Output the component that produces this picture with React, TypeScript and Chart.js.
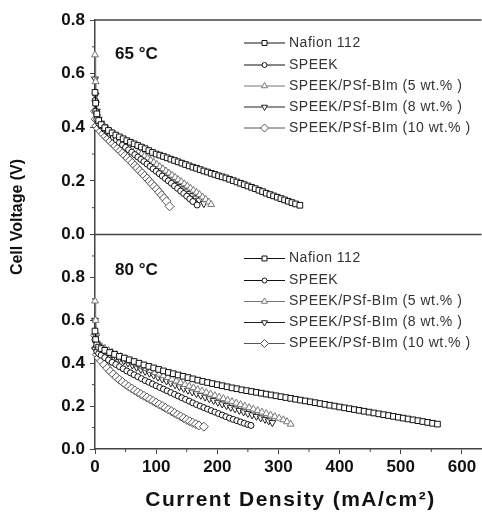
import React, { useEffect, useRef } from 'react';
import { Chart, registerables } from 'chart.js';
import { drawPoint } from 'chart.js/helpers';
Chart.register(...registerables);

const seriesNames = [
  'Nafion 112',
  'SPEEK',
  'SPEEK/PSf-BIm (5 wt.% )',
  'SPEEK/PSf-BIm (8 wt.% )',
  'SPEEK/PSf-BIm (10 wt.% )',
];
const panelLabels = ['65 °C', '80 °C'];
const xTitle = 'Current Density (mA/cm²)';
const yTitle = 'Cell Voltage (V)';
const xTicks = [0, 100, 200, 300, 400, 500, 600];
const xMinorTicks = [50, 150, 250, 350, 450, 550];
const yTicks = [0, 0.2, 0.4, 0.6, 0.8];
const yMinorTop = [0.1, 0.3, 0.5, 0.7];
const yMinorBottom = [0.1, 0.3, 0.5, 0.7, 0.9];

// ---- 65 °C ----
const nafion65X = [0,1,3,6,10,16,22,28,34,40,46,52,58,64,70,76,82,88,94,100,106,112,118,124,130,136,142,148,154,160,166,172,178,184,190,196,202,208,214,220,226,232,238,244,250,256,262,268,274,280,286,292,298,304,310,316,322,328,335];
const nafion65Y = [0.53,0.49,0.45,0.425,0.41,0.398,0.388,0.379,0.371,0.364,0.357,0.350,0.344,0.338,0.332,0.326,0.320,0.313,0.306,0.300,0.296,0.291,0.286,0.281,0.276,0.271,0.266,0.261,0.256,0.251,0.247,0.242,0.237,0.233,0.228,0.224,0.219,0.215,0.211,0.206,0.201,0.196,0.191,0.186,0.181,0.176,0.171,0.165,0.160,0.154,0.149,0.144,0.139,0.134,0.129,0.124,0.119,0.114,0.109];
const speek65X = [0,1,3,6,10,15,20,25,30,35,40,45,50,55,60,65,70,75,80,85,90,95,100,105,110,115,120,125,130,135,140,145,150,155,160,167];
const speek65Y = [0.50,0.46,0.43,0.415,0.405,0.393,0.383,0.373,0.363,0.353,0.343,0.334,0.325,0.316,0.307,0.298,0.289,0.280,0.272,0.263,0.254,0.245,0.236,0.227,0.218,0.209,0.200,0.191,0.181,0.172,0.162,0.153,0.143,0.133,0.123,0.110];
const wt5_65X = [0,1,2,4,7,11,16,21,26,31,36,41,46,51,56,61,66,71,76,81,86,91,96,101,106,111,116,121,126,131,136,141,146,151,156,161,166,171,176,181,186,190];
const wt5_65Y = [0.67,0.57,0.50,0.45,0.425,0.413,0.402,0.393,0.384,0.375,0.366,0.357,0.349,0.341,0.333,0.325,0.317,0.309,0.301,0.293,0.285,0.277,0.269,0.261,0.253,0.245,0.237,0.229,0.221,0.213,0.205,0.197,0.189,0.181,0.173,0.165,0.157,0.149,0.140,0.131,0.121,0.112];
const wt8_65X = [0,1,3,6,10,15,20,25,30,35,40,45,50,55,60,65,70,75,80,85,90,95,100,105,110,115,120,125,130,135,140,145,150,155,160,165,170,178];
const wt8_65Y = [0.58,0.52,0.46,0.43,0.415,0.402,0.391,0.381,0.371,0.361,0.352,0.343,0.334,0.325,0.316,0.307,0.298,0.289,0.281,0.272,0.264,0.255,0.247,0.238,0.230,0.221,0.213,0.204,0.196,0.187,0.179,0.170,0.162,0.153,0.145,0.136,0.128,0.115];
const wt10_65X = [0,1,2,5,9,13,17,21,25,29,33,37,41,45,49,53,57,61,65,69,73,77,81,85,89,93,97,101,105,109,113,117,122];
const wt10_65Y = [0.46,0.43,0.405,0.395,0.385,0.375,0.366,0.357,0.348,0.339,0.330,0.321,0.312,0.303,0.294,0.285,0.276,0.267,0.257,0.248,0.238,0.229,0.219,0.209,0.199,0.189,0.179,0.169,0.158,0.147,0.136,0.124,0.105];

// ---- 80 °C ----
const nafion80X = [0,1,3,6,10,16,24,32,40,48,56,64,72,80,88,96,104,112,120,128,136,144,152,160,168,176,184,192,200,208,216,224,232,240,248,256,264,272,280,288,296,304,312,320,328,336,344,352,360,368,376,384,392,400,408,416,424,432,440,448,456,464,472,480,488,496,504,512,520,528,536,544,552,560];
const nafion80Y = [0.55,0.51,0.485,0.475,0.468,0.46,0.45,0.441,0.432,0.424,0.416,0.408,0.400,0.392,0.385,0.378,0.371,0.364,0.357,0.351,0.345,0.339,0.333,0.327,0.321,0.315,0.310,0.305,0.300,0.295,0.290,0.285,0.281,0.276,0.272,0.268,0.264,0.260,0.256,0.252,0.248,0.244,0.240,0.236,0.232,0.228,0.224,0.220,0.216,0.212,0.208,0.204,0.200,0.196,0.192,0.188,0.184,0.180,0.176,0.172,0.168,0.164,0.160,0.156,0.152,0.148,0.144,0.140,0.136,0.132,0.128,0.124,0.120,0.116];
const speek80X = [0,1,3,6,10,16,22,28,34,40,46,52,58,64,70,76,82,88,94,100,106,112,118,124,130,136,142,148,154,160,166,172,178,184,190,196,202,208,214,220,226,232,238,244,250,255];
const speek80Y = [0.51,0.47,0.455,0.445,0.437,0.426,0.415,0.404,0.394,0.384,0.374,0.364,0.355,0.346,0.337,0.328,0.319,0.311,0.303,0.295,0.287,0.279,0.271,0.263,0.255,0.247,0.239,0.231,0.223,0.215,0.207,0.200,0.193,0.186,0.179,0.172,0.165,0.158,0.151,0.144,0.138,0.132,0.126,0.120,0.114,0.110];
const wt5_80X = [0,1,2,4,7,11,16,22,28,35,42,49,56,63,70,77,84,91,98,105,112,119,126,133,140,147,154,161,168,175,182,189,196,203,210,217,224,231,238,245,252,259,266,273,280,287,294,301,308,314,320];
const wt5_80Y = [0.69,0.60,0.54,0.50,0.485,0.477,0.469,0.460,0.451,0.441,0.431,0.421,0.411,0.402,0.393,0.384,0.375,0.366,0.357,0.349,0.341,0.333,0.325,0.317,0.309,0.301,0.293,0.285,0.277,0.270,0.263,0.256,0.249,0.242,0.235,0.228,0.221,0.214,0.207,0.200,0.193,0.186,0.179,0.172,0.165,0.158,0.151,0.144,0.136,0.127,0.116];
const wt8_80X = [0,1,3,6,10,16,22,28,34,40,47,54,61,68,75,82,89,96,103,110,117,124,131,138,145,152,159,166,173,180,187,194,201,208,215,222,229,236,243,250,257,264,271,278,284,290];
const wt8_80Y = [0.60,0.53,0.49,0.478,0.47,0.46,0.45,0.44,0.43,0.421,0.411,0.401,0.391,0.381,0.371,0.362,0.353,0.344,0.335,0.326,0.317,0.308,0.299,0.290,0.282,0.274,0.266,0.258,0.250,0.242,0.234,0.226,0.218,0.210,0.202,0.194,0.187,0.180,0.173,0.166,0.159,0.152,0.145,0.138,0.131,0.123];
const wt10_80X = [0,1,3,6,10,15,20,25,30,35,40,45,50,55,60,65,70,75,80,85,90,95,100,105,110,115,120,125,130,135,140,145,150,155,160,165,170,178];
const wt10_80Y = [0.53,0.47,0.44,0.425,0.41,0.393,0.377,0.362,0.348,0.335,0.323,0.312,0.301,0.291,0.282,0.273,0.264,0.256,0.248,0.240,0.232,0.224,0.216,0.208,0.200,0.192,0.184,0.176,0.168,0.160,0.152,0.144,0.136,0.129,0.122,0.116,0.110,0.104];

const panel65 = [[nafion65X, nafion65Y], [speek65X, speek65Y], [wt5_65X, wt5_65Y], [wt8_65X, wt8_65Y], [wt10_65X, wt10_65Y]];
const panel80 = [[nafion80X, nafion80Y], [speek80X, speek80Y], [wt5_80X, wt5_80Y], [wt8_80X, wt8_80Y], [wt10_80X, wt10_80Y]];

const seriesStyles = [
  { pointStyle: 'rect', radius: 4, rotation: 0, color: '#111' },
  { pointStyle: 'circle', radius: 3, rotation: 0, color: '#111' },
  { pointStyle: 'triangle', radius: 4, rotation: 0, color: '#777' },
  { pointStyle: 'triangle', radius: 4, rotation: 180, color: '#222' },
  { pointStyle: 'rectRot', radius: 4.5, rotation: 0, color: '#555' },
];

const FONT = '"Liberation Sans", Arial, Helvetica, sans-serif';
const AXIS_COLOR = '#444';
const CANVAS_W = 487;
const VIEW_W = 482;
const VIEW_H = 516;

function makeDatasets(panel: number[][][], axisId: string, tag: string) {
  return panel.map(([xs, ys], i) => {
    const s = seriesStyles[i];
    return {
      label: seriesNames[i] + ' ' + tag,
      data: xs.map((x, j) => ({ x, y: ys[j] })),
      xAxisID: 'x',
      yAxisID: axisId,
      borderColor: s.color,
      borderWidth: 1,
      pointStyle: s.pointStyle,
      pointRadius: s.radius,
      pointRotation: s.rotation,
      pointBackgroundColor: '#fff',
      pointBorderColor: s.color,
      pointBorderWidth: 1,
      showLine: true,
      fill: false,
      tension: 0,
      clip: false,
    };
  });
}

const decorPlugin = {
  id: 'decor',
  afterDraw(chart: any) {
    const ctx = chart.ctx as CanvasRenderingContext2D;
    const { left, right, bottom } = chart.chartArea;
    const yT = chart.scales.y65;
    const yB = chart.scales.y80;
    const xs = chart.scales.x;
    ctx.save();
    ctx.strokeStyle = AXIS_COLOR;
    ctx.lineWidth = 1.5;
    const line = (x1: number, y1: number, x2: number, y2: number) => {
      ctx.beginPath();
      ctx.moveTo(x1, y1);
      ctx.lineTo(x2, y2);
      ctx.stroke();
    };
    line(left, yT.top, right, yT.top);
    line(left, yT.bottom, right, yT.bottom);
    ctx.lineWidth = 1;
    yMinorTop.forEach((v) => { const p = yT.getPixelForValue(v); line(left - 3, p, left, p); });
    yMinorBottom.forEach((v) => { const p = yB.getPixelForValue(v); line(left - 3, p, left, p); });
    xMinorTicks.forEach((v) => { const p = xs.getPixelForValue(v); line(p, bottom, p, bottom + 3); });

    // panel temperature labels
    ctx.fillStyle = '#111';
    ctx.font = `bold 17px ${FONT}`;
    ctx.textAlign = 'left';
    ctx.textBaseline = 'middle';
    ctx.fillText(panelLabels[0], left + 20, yT.top + 34);
    ctx.fillText(panelLabels[1], left + 20, yB.top + 36);

    // legends
    const rowOffsets = [23, 45, 66, 87, 108];
    [yT, yB].forEach((sc, pi) => {
      const base = sc.top + (pi === 0 ? 0 : 1);
      seriesNames.forEach((name, i) => {
        const s = seriesStyles[i];
        const y = base + rowOffsets[i];
        ctx.strokeStyle = s.color;
        ctx.lineWidth = 1;
        line(244, y, 285, y);
        ctx.fillStyle = '#fff';
        ctx.strokeStyle = s.color;
        drawPoint(ctx, { pointStyle: s.pointStyle, radius: s.radius - 0.5, rotation: s.rotation, borderWidth: 1 } as any, 264.5, y);
        ctx.fillStyle = '#333';
        ctx.font = `14px ${FONT}`;
        (ctx as any).letterSpacing = '0.5px';
        ctx.textAlign = 'left';
        ctx.textBaseline = 'middle';
        ctx.fillText(name, 289, y);
        (ctx as any).letterSpacing = '0px';
      });
    });

    // x axis title
    ctx.fillStyle = '#111';
    ctx.font = `bold 21px ${FONT}`;
    (ctx as any).letterSpacing = '1.5px';
    ctx.textAlign = 'center';
    ctx.textBaseline = 'middle';
    ctx.fillText(xTitle, (left + VIEW_W) / 2 + 2, 500);
    (ctx as any).letterSpacing = '0px';

    // y axis title
    ctx.save();
    ctx.translate(18, 217);
    ctx.rotate(-Math.PI / 2);
    ctx.fillStyle = '#111';
    ctx.font = `bold 16px ${FONT}`;
    ctx.textAlign = 'center';
    ctx.textBaseline = 'middle';
    ctx.fillText(yTitle, 0, 0);
    ctx.restore();
    ctx.restore();
  },
};

function yScale(max: number) {
  return {
    type: 'linear',
    position: 'left',
    stack: 'panels',
    stackWeight: 1,
    min: 0,
    max,
    afterBuildTicks: (sc: any) => { sc.ticks = yTicks.map((v) => ({ value: v })); },
    afterFit: (sc: any) => { sc.width = 95; },
    ticks: {
      color: '#111',
      padding: 5,
      font: { family: FONT, size: 17, weight: 'bold' },
      callback: (v: any) => Number(v).toFixed(1),
    },
    grid: { display: true, drawOnChartArea: false, drawTicks: true, tickLength: 5, tickColor: AXIS_COLOR, tickWidth: 1 },
    border: { display: true, color: AXIS_COLOR, width: 1.5 },
  };
}

export default function App() {
  const ref = useRef<HTMLCanvasElement>(null);
  useEffect(() => {
    if (!ref.current) return;
    const chart = new Chart(ref.current, {
      type: 'line',
      data: {
        datasets: [
          ...makeDatasets(panel65, 'y65', '65'),
          ...makeDatasets(panel80, 'y80', '80'),
        ] as any,
      },
      options: {
        animation: false,
        responsive: false,
        devicePixelRatio: 1,
        layout: { padding: { top: 20, left: 0, right: 0, bottom: 0 } },
        plugins: { legend: { display: false }, tooltip: { enabled: false } },
        scales: {
          x: {
            type: 'linear',
            position: 'bottom',
            min: 0,
            max: 632,
            afterBuildTicks: (sc: any) => { sc.ticks = xTicks.map((v) => ({ value: v })); },
            afterFit: (sc: any) => { sc.height = 67; },
            ticks: {
              color: '#111',
              padding: 3,
              maxRotation: 0,
              font: { family: FONT, size: 17, weight: 'bold' },
              callback: (v: any) => String(v),
            },
            grid: { display: true, drawOnChartArea: false, drawTicks: true, tickLength: 5, tickColor: AXIS_COLOR, tickWidth: 1 },
            border: { display: true, color: AXIS_COLOR, width: 1.5 },
            title: { display: false },
          },
          y80: yScale(1.0),
          y65: yScale(0.8),
        } as any,
      },
      plugins: [decorPlugin],
    });
    return () => chart.destroy();
  }, []);
  return (
    <div style={{ position: 'fixed', left: 0, top: 0, width: VIEW_W, height: VIEW_H, overflow: 'hidden', background: '#fff' }}>
      <canvas ref={ref} width={CANVAS_W} height={VIEW_H} style={{ width: CANVAS_W, height: VIEW_H, display: 'block' }} />
    </div>
  );
}
